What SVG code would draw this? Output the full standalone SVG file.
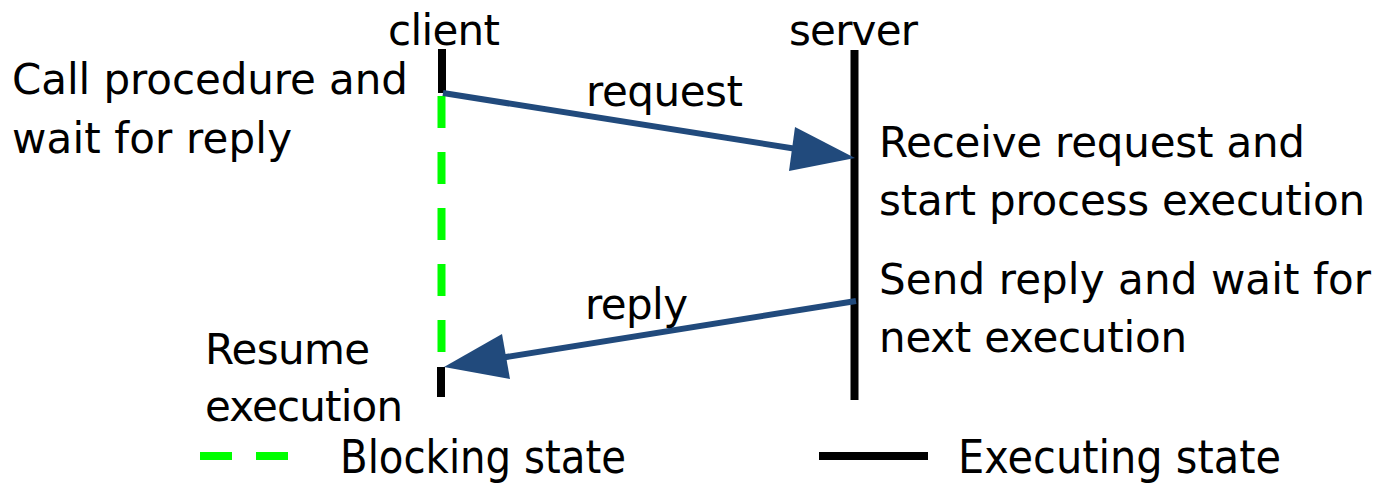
<svg xmlns="http://www.w3.org/2000/svg" width="1377" height="484" viewBox="0 0 1377 484">
<style>
text{font-family:"DejaVu Sans","Verdana",sans-serif;font-size:42px;fill:#000}
.leg{font-size:47px}
.exec{stroke:#000;stroke-width:8;fill:none}
.block{stroke:#00FF00;stroke-width:8;fill:none;stroke-dasharray:32 24}
.msg{stroke:#214A7C;stroke-width:6;fill:none}
.head{fill:#214A7C}
</style>
<rect width="1377" height="484" fill="#fff"/>
<g id="client">
<text x="388" y="45" textLength="112">client</text>
<line class="exec" x1="442" y1="49" x2="442" y2="93"/>
<line class="block" x1="441.5" y1="96" x2="441.5" y2="352"/>
<line class="exec" x1="441" y1="367" x2="441" y2="397"/>
<text x="12" y="94" textLength="396">Call procedure and</text>
<text x="12" y="153" textLength="280">wait for reply</text>
<text x="205" y="364" textLength="165">Resume</text>
<text x="205" y="421" textLength="198">execution</text>
</g>
<g id="server">
<text x="789" y="45" textLength="129">server</text>
<line class="exec" x1="854.5" y1="50" x2="854.5" y2="400" stroke-width="7"/>
<text x="879" y="157" textLength="426">Receive request and</text>
<text x="879" y="215" textLength="486">start process execution</text>
<text x="879" y="294" textLength="492">Send reply and wait for</text>
<text x="879" y="352" textLength="308">next execution</text>
</g>
<g id="connectors">
<g id="request">
<line class="msg" x1="443" y1="93" x2="800" y2="149.5"/>
<polygon class="head" points="855,158 795,127 789,171"/>
<text x="586" y="106" textLength="157">request</text>
</g>
<g id="reply">
<line class="msg" x1="856" y1="301" x2="500" y2="358"/>
<polygon class="head" points="444,367 502,334 510,379"/>
<text x="585" y="319" textLength="103">reply</text>
</g>
</g>
<g id="legend">
<line class="block" x1="200" y1="456" x2="288" y2="456" stroke-dasharray="32 23"/>
<text class="leg" x="340" y="473" textLength="286" lengthAdjust="spacingAndGlyphs">Blocking state</text>
<line class="exec" x1="819" y1="456" x2="928" y2="456" stroke-width="7"/>
<text class="leg" x="958" y="473" textLength="323" lengthAdjust="spacingAndGlyphs">Executing state</text>
</g>
</svg>
